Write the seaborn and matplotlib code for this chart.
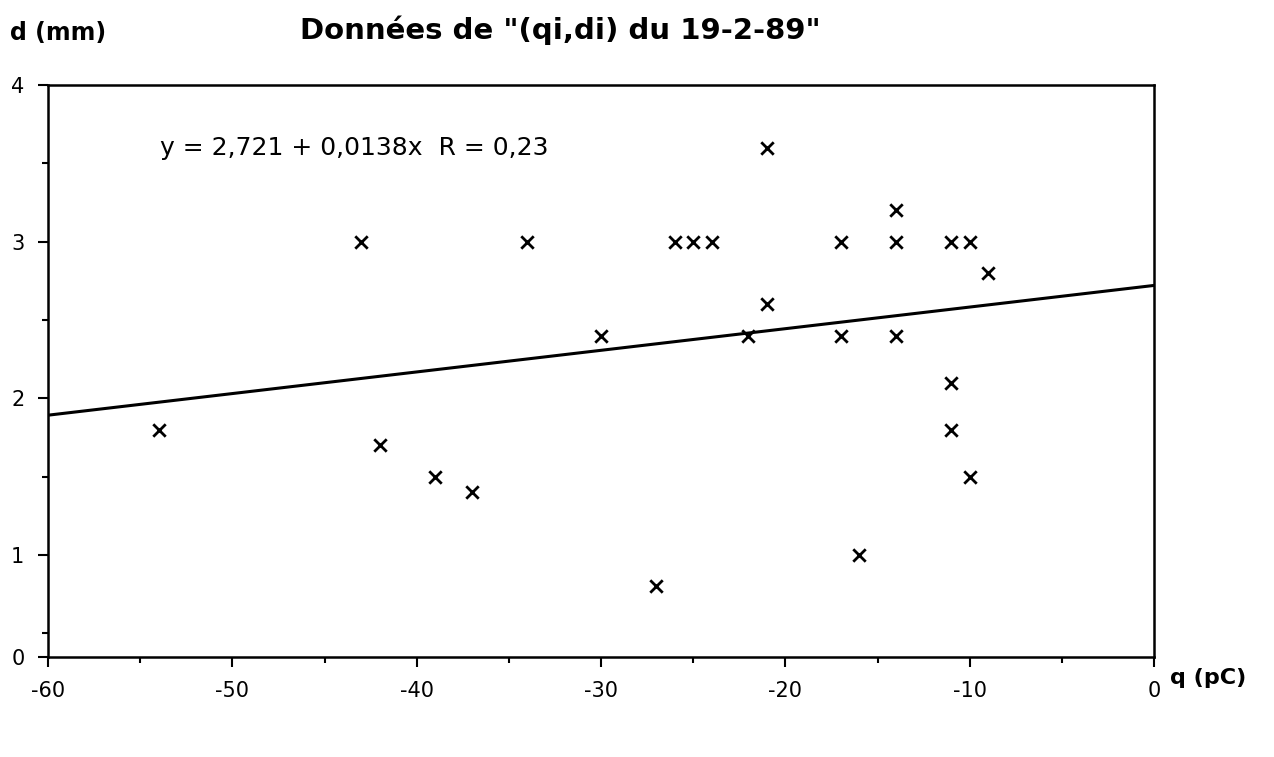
import numpy as np
import pandas as pd
import matplotlib
matplotlib.use("Agg")
import matplotlib.pyplot as plt
import seaborn as sns
from matplotlib.ticker import MultipleLocator, FixedLocator

# Charge q (pC) and diameter d (mm)
q_vals = [-54, -43, -42, -39, -37, -34, -30, -27, -26, -25, -24, -22,
          -21, -21, -17, -17, -16, -14, -14, -14, -11, -11, -11, -10, -10, -9]
d_vals = [1.8, 3.0, 1.7, 1.5, 1.4, 3.0, 2.4, 0.8, 3.0, 3.0, 3.0, 2.4,
          3.6, 2.6, 3.0, 2.4, 1.0, 3.2, 3.0, 2.4, 3.0, 2.1, 1.8, 3.0, 1.5, 2.8]

# regression printed on the chart
intercept = 2.721
slope = 0.0138
fit_range = [-60, 0]

x_ticks = [-60, -50, -40, -30, -20, -10, 0]
x_labels = ["-60", "-50", "-40", "-30", "-20", "-10", "0"]
# the original plot's bottom edge sits a bit above 0 but is labelled "0"
y_bottom = 0.35
y_ticks = [y_bottom, 1, 2, 3, 4]
y_labels = ["0", "1", "2", "3", "4"]


def main():
    df = pd.DataFrame({"q": q_vals, "d": d_vals})
    fit = pd.DataFrame({"q": fit_range})
    fit["d"] = intercept + slope * fit["q"]

    sns.set_theme(style="ticks")
    plt.rcParams["font.family"] = ["DejaVu Sans"]
    plt.rcParams["text.color"] = "black"

    fig = plt.figure(figsize=(12.74, 7.57), dpi=100)
    ax = fig.add_axes([48 / 1274, 100 / 757, 1106 / 1274, 572 / 757])

    sns.lineplot(data=fit, x="q", y="d", color="black", linewidth=2.2, ax=ax)
    sns.scatterplot(data=df, x="q", y="d", marker="x", color="black",
                    s=80, linewidth=2.0, ax=ax)

    ax.set_xlim(-60, 0)
    ax.set_ylim(y_bottom, 4)
    ax.set_xticks(x_ticks)
    ax.set_xticklabels(x_labels, fontsize=15)
    ax.yaxis.set_major_locator(FixedLocator(y_ticks))
    ax.set_yticklabels(y_labels, fontsize=15)
    ax.xaxis.set_minor_locator(MultipleLocator(5))
    ax.yaxis.set_minor_locator(FixedLocator([0.5, 1.5, 2.5, 3.5]))
    ax.tick_params(axis="both", which="major", length=7, width=1.5,
                   color="black", labelcolor="black")
    ax.tick_params(axis="x", which="major", pad=10)
    ax.tick_params(axis="y", which="major", pad=10)
    ax.tick_params(axis="both", which="minor", length=4, width=1.5, color="black")
    ax.set_xlabel("")
    ax.set_ylabel("")
    for sp in ax.spines.values():
        sp.set_linewidth(1.8)
        sp.set_color("black")
        sp.set_visible(True)

    fig.text(560 / 1274, 1 - 30 / 757, "Données de \"(qi,di) du 19-2-89\"",
             ha="center", va="center", fontsize=21, fontweight="bold")
    fig.text(10 / 1274, 1 - 33 / 757, "d (mm)", ha="left", va="center",
             fontsize=17, fontweight="bold")
    fig.text(1170 / 1274, 1 - 678 / 757, "q (pC)", ha="left", va="center",
             fontsize=16, fontweight="bold")
    ax.text(-53.9, 3.6, "y = 2,721 + 0,0138x  R = 0,23", ha="left",
            va="center", fontsize=18)

    fig.savefig("out.png", dpi=100, facecolor="white")


if __name__ == "__main__":
    main()
